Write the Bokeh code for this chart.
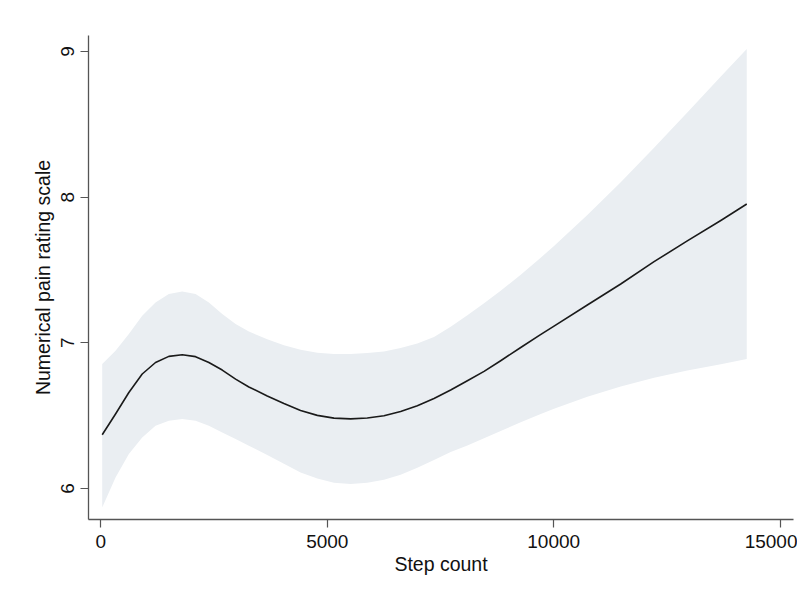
from bokeh.plotting import figure
from bokeh.models import Range1d, FixedTicker, ColumnDataSource
from bokeh.embed import file_html
from bokeh.resources import INLINE

# Data (step count vs. predicted NPRS with 95% CI)
steps = [31, 325, 619, 914, 1208, 1502, 1798, 2092, 2386, 2681, 2976, 3269,
         3675, 4043, 4411, 4780, 5148, 5516, 5884, 6252, 6620, 6989, 7357,
         7725, 8094, 8462, 8829, 9272, 9700, 10007, 10743, 11480, 12216,
         12950, 13690, 14263]
fit = [6.369, 6.511, 6.659, 6.786, 6.865, 6.907, 6.918, 6.905, 6.865, 6.813,
       6.751, 6.697, 6.635, 6.583, 6.536, 6.502, 6.483, 6.478, 6.484, 6.499,
       6.529, 6.568, 6.618, 6.676, 6.740, 6.804, 6.877, 6.968, 7.055, 7.115,
       7.260, 7.404, 7.557, 7.700, 7.840, 7.953]
upper = [6.854, 6.946, 7.060, 7.186, 7.277, 7.335, 7.353, 7.335, 7.277, 7.198,
         7.129, 7.078, 7.024, 6.983, 6.953, 6.932, 6.924, 6.923, 6.930, 6.941,
         6.964, 6.996, 7.040, 7.110, 7.190, 7.271, 7.357, 7.468, 7.581, 7.665,
         7.878, 8.103, 8.339, 8.581, 8.829, 9.018]
lower = [5.870, 6.076, 6.236, 6.350, 6.431, 6.465, 6.477, 6.465, 6.431, 6.385,
         6.339, 6.293, 6.230, 6.170, 6.110, 6.068, 6.040, 6.030, 6.040, 6.060,
         6.095, 6.143, 6.196, 6.250, 6.295, 6.345, 6.395, 6.455, 6.510, 6.547,
         6.630, 6.700, 6.760, 6.810, 6.853, 6.889]

x_ticks = [0, 5000, 10000, 15000]
y_ticks = [6, 7, 8, 9]
x_label = "Step count"
y_label = "Numerical pain rating scale"

src = ColumnDataSource(dict(x=steps, fit=fit, lo=lower, hi=upper))

p = figure(output_backend="svg", toolbar_location=None,
           frame_width=705, frame_height=484,
           x_range=Range1d(-272, 15295), y_range=Range1d(5.787, 9.11),
           min_border_left=88, min_border_top=35, min_border_right=4,
           min_border_bottom=55)

p.varea(x="x", y1="lo", y2="hi", source=src, fill_color="#eaeef2", fill_alpha=1.0)
p.line(x="x", y="fit", source=src, line_color="#1a1a1a", line_width=1.6,
       line_join="round")

p.grid.visible = False
p.outline_line_color = None
p.background_fill_color = "white"
p.border_fill_color = "white"

font = "Liberation Sans"
for ax in (p.xaxis[0], p.yaxis[0]):
    ax.axis_line_color = "#555555"
    ax.axis_line_width = 1.3
    ax.major_tick_line_color = "#555555"
    ax.major_tick_line_width = 1.2
    ax.major_tick_out = 8
    ax.major_tick_in = 0
    ax.minor_tick_line_color = None
    ax.major_label_text_font = font
    ax.major_label_text_font_size = "19px"
    ax.major_label_text_color = "#111111"
    ax.axis_label_text_font = font
    ax.axis_label_text_font_size = "19.5px"
    ax.axis_label_text_font_style = "normal"
    ax.axis_label_text_color = "#111111"

p.xaxis[0].ticker = FixedTicker(ticks=x_ticks)
p.yaxis[0].ticker = FixedTicker(ticks=y_ticks)
p.xaxis[0].axis_label = x_label
p.yaxis[0].axis_label = y_label
p.yaxis[0].major_label_orientation = "vertical"
p.xaxis[0].major_label_standoff = 7
p.yaxis[0].major_label_standoff = 6
p.xaxis[0].axis_label_standoff = 2
p.yaxis[0].axis_label_standoff = 5

open("out.html", "w").write(file_html(p, INLINE))
